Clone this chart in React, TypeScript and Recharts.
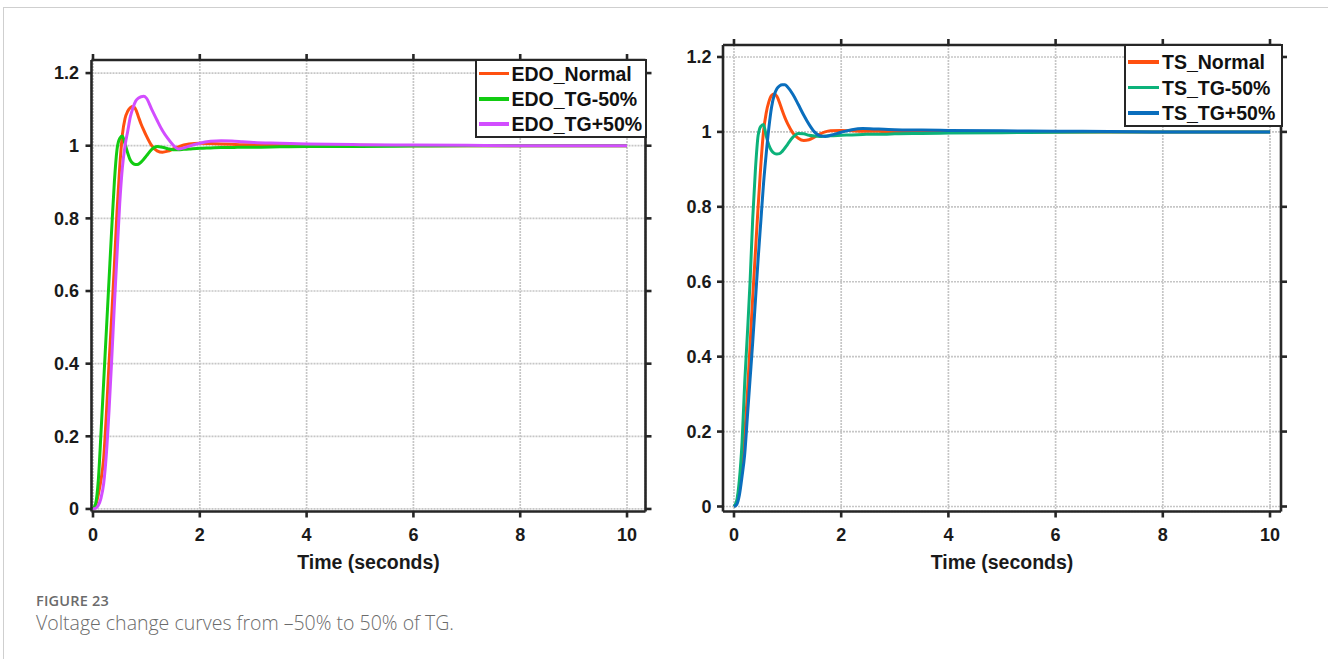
import React from 'react';
import { LineChart, Line, XAxis, YAxis, CartesianGrid } from 'recharts';

const time = [0, 0.05, 0.1, 0.15, 0.2, 0.25, 0.3, 0.35, 0.4, 0.45, 0.5, 0.55, 0.6, 0.65, 0.7, 0.75, 0.8, 0.85, 0.9, 0.95, 1.0, 1.1, 1.2, 1.3, 1.4, 1.5, 1.6, 1.7, 1.8, 2.0, 2.2, 2.4, 2.6, 2.8, 3.0, 3.5, 4, 5, 6, 7, 8, 9, 10];

const edoNormal = [0, 0.01, 0.04, 0.08, 0.14, 0.26, 0.4, 0.53, 0.67, 0.82, 0.94, 1.03, 1.075, 1.095, 1.105, 1.108, 1.1, 1.08, 1.06, 1.043, 1.027, 1.0, 0.986, 0.982, 0.985, 0.991, 0.997, 1.002, 1.005, 1.007, 1.006, 1.005, 1.004, 1.003, 1.003, 1.002, 1.001, 1.001, 1.0, 1.0, 1.0, 1.0, 1.0];
const edoTgMinus = [0, 0.015, 0.08, 0.21, 0.35, 0.49, 0.63, 0.77, 0.9, 0.99, 1.02, 1.027, 1.005, 0.98, 0.96, 0.951, 0.948, 0.949, 0.955, 0.963, 0.972, 0.99, 0.998, 0.996, 0.992, 0.989, 0.989, 0.99, 0.991, 0.993, 0.994, 0.995, 0.995, 0.996, 0.996, 0.997, 0.998, 0.998, 0.999, 1.0, 1.0, 1.0, 1.0];
const edoTgPlus = [0, 0.002, 0.01, 0.03, 0.07, 0.15, 0.27, 0.41, 0.56, 0.7, 0.84, 0.94, 1.0, 1.04, 1.08, 1.105, 1.123, 1.131, 1.135, 1.136, 1.131, 1.1, 1.07, 1.042, 1.02, 1.002, 0.991, 0.994, 0.999, 1.007, 1.012, 1.014, 1.013, 1.011, 1.009, 1.007, 1.005, 1.003, 1.002, 1.001, 1.0, 1.0, 1.0];

const tsNormal = [0, 0.01, 0.05, 0.11, 0.19, 0.3, 0.43, 0.56, 0.68, 0.8, 0.91, 1.0, 1.05, 1.08, 1.097, 1.101, 1.095, 1.078, 1.057, 1.038, 1.022, 0.997, 0.983, 0.977, 0.979, 0.986, 0.994, 1.0, 1.003, 1.004, 1.003, 1.002, 1.002, 1.001, 1.001, 1.0, 1.0, 1.0, 1.0, 1.0, 1.0, 1.0, 1.0];
const tsTgMinus = [0, 0.015, 0.07, 0.17, 0.33, 0.46, 0.6, 0.77, 0.9, 0.99, 1.015, 1.02, 0.99, 0.965, 0.95, 0.943, 0.941, 0.942, 0.948, 0.957, 0.967, 0.986, 0.996, 0.995, 0.991, 0.989, 0.988, 0.989, 0.99, 0.991, 0.992, 0.993, 0.994, 0.994, 0.995, 0.996, 0.997, 0.998, 0.999, 1.0, 1.0, 1.0, 1.0];
const tsTgPlus = [0, 0.005, 0.03, 0.08, 0.14, 0.24, 0.34, 0.44, 0.55, 0.66, 0.76, 0.86, 0.94, 1.01, 1.065, 1.098, 1.115, 1.123, 1.126, 1.126, 1.12, 1.1, 1.073, 1.045, 1.02, 1.0, 0.99, 0.988, 0.991, 0.999, 1.006, 1.009, 1.008, 1.007, 1.006, 1.005, 1.004, 1.003, 1.002, 1.001, 1.0, 1.0, 1.0];

const xTicks = [0, 2, 4, 6, 8, 10];
const yTicks = [0, 0.2, 0.4, 0.6, 0.8, 1, 1.2];

const leftSeries = [
  { key: 'EDO_Normal', values: edoNormal, color: '#FF5010' },
  { key: 'EDO_TG-50%', values: edoTgMinus, color: '#12CC12' },
  { key: 'EDO_TG+50%', values: edoTgPlus, color: '#D24DFF' },
];
const rightSeries = [
  { key: 'TS_Normal', values: tsNormal, color: '#FF5010' },
  { key: 'TS_TG-50%', values: tsTgMinus, color: '#0CB27A' },
  { key: 'TS_TG+50%', values: tsTgPlus, color: '#0A6EBD' },
];

const buildRows = (series: { key: string; values: number[] }[]) =>
  time.map((t, i) => {
    const row: Record<string, number> = { t };
    series.forEach((s) => {
      row[s.key] = s.values[i];
    });
    return row;
  });

const FONT = '"Liberation Sans", Arial, Helvetica, sans-serif';
const AXIS = '#262626';

type PanelProps = {
  left: number;
  width: number;
  margin: { top: number; right: number; bottom: number; left: number };
  xDomain: [number, number];
  yDomain: [number, number];
  series: { key: string; values: number[]; color: string }[];
  yTickMargin: number;
};

const Panel = ({ left, width, margin, xDomain, yDomain, series, yTickMargin }: PanelProps) => {
  const data = buildRows(series);
  const tickStyle = { fill: '#1a1a1a', fontSize: 18, fontWeight: 700, fontFamily: FONT };
  return (
    <div style={{ position: 'absolute', left, top: 0 }}>
      <LineChart width={width} height={600} data={data} margin={margin}>
        <CartesianGrid stroke="#c6c6c6" strokeWidth={1.7} strokeDasharray="2 1" />
        <XAxis
          dataKey="t"
          type="number"
          domain={xDomain}
          ticks={xTicks}
          allowDataOverflow
          height={60}
          tickSize={6}
          tickMargin={11}
          axisLine={{ stroke: AXIS, strokeWidth: 2.6 }}
          tickLine={{ stroke: AXIS, strokeWidth: 2.6 }}
          tick={tickStyle}
          label={{
            value: 'Time (seconds)',
            position: 'insideBottom',
            offset: 3,
            style: { fill: '#1a1a1a', fontSize: 19.5, fontWeight: 700, fontFamily: FONT },
          }}
        />
        <XAxis
          xAxisId="top"
          orientation="top"
          dataKey="t"
          type="number"
          domain={xDomain}
          ticks={xTicks}
          allowDataOverflow
          height={10}
          tickSize={6}
          tickFormatter={() => ''}
          axisLine={{ stroke: AXIS, strokeWidth: 2.6 }}
          tickLine={{ stroke: AXIS, strokeWidth: 2.6 }}
        />
        <YAxis
          type="number"
          domain={yDomain}
          ticks={yTicks}
          allowDataOverflow
          width={60}
          tickSize={6}
          tickMargin={yTickMargin}
          axisLine={{ stroke: AXIS, strokeWidth: 2.6 }}
          tickLine={{ stroke: AXIS, strokeWidth: 2.6 }}
          tick={tickStyle}
        />
        <YAxis
          yAxisId="right"
          orientation="right"
          type="number"
          domain={yDomain}
          ticks={yTicks}
          allowDataOverflow
          width={10}
          tickSize={6}
          tickFormatter={() => ''}
          axisLine={{ stroke: AXIS, strokeWidth: 2.6 }}
          tickLine={{ stroke: AXIS, strokeWidth: 2.6 }}
        />
        {series.map((s) => (
          <Line
            key={s.key}
            dataKey={s.key}
            type="monotone"
            stroke={s.color}
            strokeWidth={3}
            dot={false}
            activeDot={false}
            isAnimationActive={false}
          />
        ))}
      </LineChart>
    </div>
  );
};

type LegendProps = {
  left: number;
  top: number;
  width: number;
  height: number;
  rowTops: number[];
  lineW: number;
  series: { key: string; color: string }[];
};

const LegendBox = ({ left, top, width, height, rowTops, lineW, series }: LegendProps) => (
  <div
    style={{
      position: 'absolute',
      left,
      top,
      width,
      height,
      boxSizing: 'border-box',
      border: `2.6px solid ${AXIS}`,
      background: '#fff',
    }}
  >
    {series.map((s, i) => (
      <div
        key={s.key}
        style={{
          position: 'absolute',
          left: 2,
          top: rowTops[i] - 12,
          height: 24,
          display: 'flex',
          alignItems: 'center',
          whiteSpace: 'nowrap',
        }}
      >
        <div style={{ width: lineW, height: 3.5, background: s.color, marginRight: 3 }} />
        <span style={{ fontFamily: FONT, fontWeight: 700, fontSize: 19.5, color: '#111', lineHeight: '24px' }}>
          {s.key}
        </span>
      </div>
    ))}
  </div>
);

export default function App() {
  return (
    <div style={{ position: 'absolute', left: 0, top: 0, width: 1328, height: 659, background: '#fff', overflow: 'hidden' }}>
      <div
        style={{
          position: 'absolute',
          left: 3,
          top: 7,
          width: 1340,
          height: 700,
          border: '1px solid #cfcfcf',
        }}
      />
      <Panel
        left={0}
        width={660}
        margin={{ top: 50, right: 4.5, bottom: 28.5, left: 31.5 }}
        xDomain={[-0.028, 10.346]}
        yDomain={[-0.007, 1.236]}
        series={leftSeries}
        yTickMargin={6.5}
      />
      <Panel
        left={660}
        width={668}
        margin={{ top: 35, right: 37, bottom: 28.5, left: 3 }}
        xDomain={[-0.205, 10.205]}
        yDomain={[-0.0134, 1.232]}
        series={rightSeries}
        yTickMargin={5.5}
      />
      <LegendBox
        left={474.5}
        top={58.5}
        width={172}
        height={79}
        rowTops={[13, 38.5, 63.5]}
        lineW={30}
        series={leftSeries}
      />
      <LegendBox
        left={1124}
        top={44}
        width={159}
        height={83}
        rowTops={[16, 41.5, 67]}
        lineW={31}
        series={rightSeries}
      />
      <div
        style={{
          position: 'absolute',
          left: 36,
          top: 591,
          fontFamily: '"Open Sans", "Noto Sans", sans-serif',
          fontSize: 14.5,
          fontWeight: 600,
          color: '#6b6b6b',
          letterSpacing: 0.2,
        }}
      >
        FIGURE 23
      </div>
      <div
        style={{
          position: 'absolute',
          left: 36,
          top: 609,
          fontFamily: '"Open Sans", "Noto Sans", sans-serif',
          fontSize: 19.5,
          fontWeight: 300,
          color: '#6b6b6b',
        }}
      >
        Voltage change curves from –50% to 50% of TG.
      </div>
    </div>
  );
}
